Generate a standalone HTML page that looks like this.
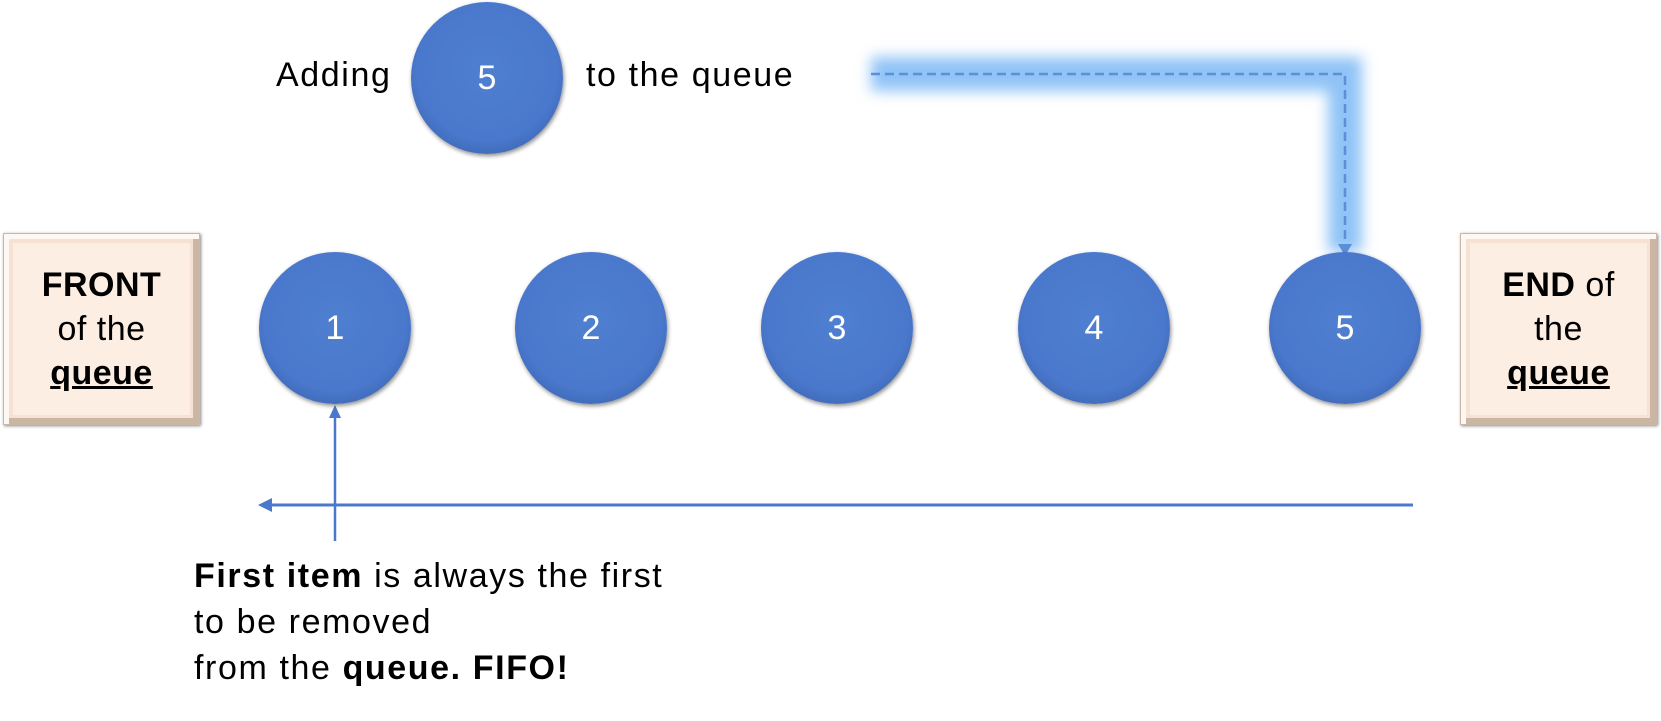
<!DOCTYPE html>
<html><head><meta charset="utf-8"><style>
body{margin:0;background:#fff;width:1661px;height:721px;overflow:hidden;position:relative;font-family:"Liberation Sans","Noto Sans CJK KR",sans-serif}
.box{position:absolute;top:233px;width:197px;height:192px;box-sizing:border-box;background:#fdeee3;border:1px solid #c9b8a8;box-shadow:inset 5px 5px 0 0 #fff7f1,inset -6px -6px 0 0 #cbb6a4,inset 0 0 0 9px #f5e2d4,1px 1px 3px #888;display:flex;align-items:center;justify-content:center;text-align:center;font-size:34px;line-height:44px;color:#000;letter-spacing:0.5px}
.c{position:absolute;width:152px;height:152px;border-radius:50%;background:radial-gradient(circle at 50% 45%,#4f7fd0 0,#4a78cc 62%,#3c64b0 84%,#243f75 100%);box-shadow:1px 2px 4px rgba(0,0,0,.45);color:#fff;font-size:34px;display:flex;align-items:center;justify-content:center}
.t{position:absolute;font-size:34px;color:#000;white-space:nowrap;letter-spacing:1.6px}
</style></head><body>
<div class="box" style="left:3px"><div><b>FRONT</b><br>of the<br><b><u>queue</u></b></div></div>
<div class="box" style="left:1460px"><div><b>END</b> of<br>the<br><b><u>queue</u></b></div></div>
<svg width="1661" height="721" style="position:absolute;left:0;top:0">
<defs><filter id="g" x="-20%" y="-20%" width="140%" height="140%"><feGaussianBlur stdDeviation="7"/></filter></defs>
<polyline points="871,74 1345,74 1345,252" fill="none" stroke="#8fc3f7" stroke-width="34" filter="url(#g)"/>
<polyline points="871,74 1345,74 1345,244" fill="none" stroke="#5b8fd6" stroke-width="2.5" stroke-dasharray="9,5"/>
<polygon points="1338,244 1352,244 1345,256" fill="#5b8fd6"/>
<line x1="1413" y1="505" x2="268" y2="505" stroke="#9cc9f5" stroke-width="10" filter="url(#g)"/>
<line x1="1413" y1="505" x2="268" y2="505" stroke="#4a78cc" stroke-width="3"/>
<polygon points="258,505 272,498 272,512" fill="#4a78cc"/>
<line x1="335" y1="541" x2="335" y2="416" stroke="#4a78cc" stroke-width="2.5"/>
<polygon points="335,405 329,418 341,418" fill="#4a78cc"/>
</svg>
<div class="c" style="left:411px;top:2px">5</div>
<div class="t" style="left:276px;top:56px">Adding</div>
<div class="t" style="left:586px;top:56px">to the queue</div>
<div class="c" style="left:259px;top:252px">1</div>
<div class="c" style="left:515px;top:252px">2</div>
<div class="c" style="left:761px;top:252px">3</div>
<div class="c" style="left:1018px;top:252px">4</div>
<div class="c" style="left:1269px;top:252px">5</div>
<div class="t" style="left:194px;top:553px;line-height:46px"><b>First item</b> is always the first<br>to be removed<br>from the <b>queue. FIFO!</b></div>
</body></html>
